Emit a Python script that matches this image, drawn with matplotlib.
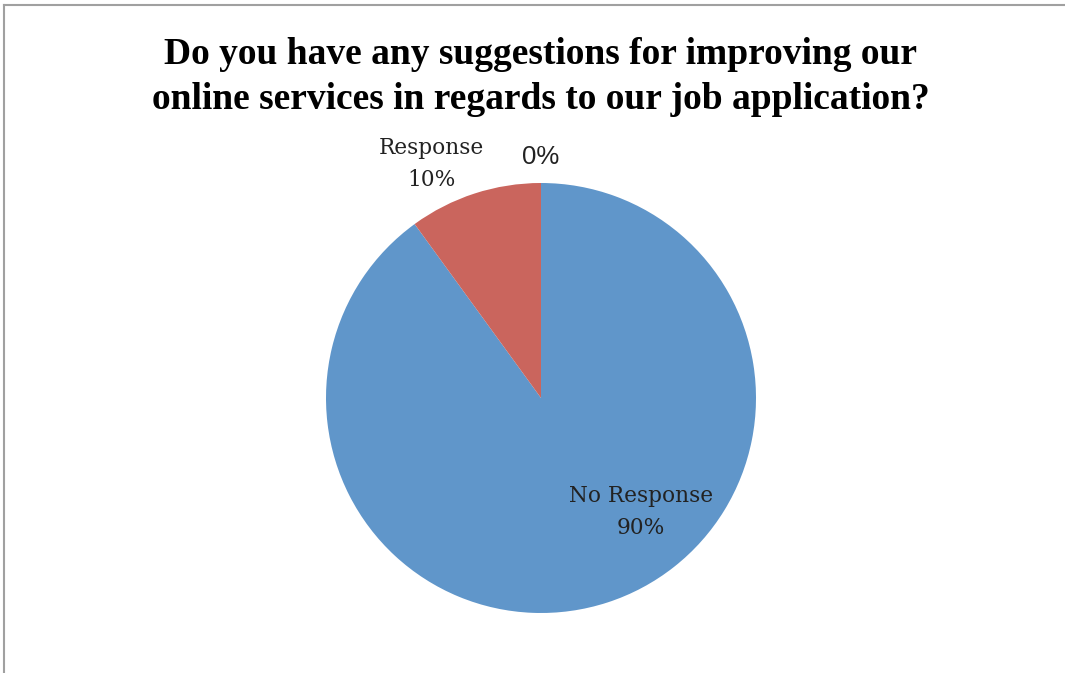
import numpy as np
import matplotlib.pyplot as plt
from matplotlib.lines import Line2D

# survey answers
labels = ['No Response', 'Response', '']
values = [90, 10, 0]
colors = ['#6096CA', '#CA655D', '#9BBB59']

title = 'Do you have any suggestions for improving our\nonline services in regards to our job application?'

W, H = 1065, 673
fig = plt.figure(figsize=(W / 100, H / 100), dpi=100)
ax = fig.add_axes([0, 0, 1, 1])

cx, cy, r = 541, H - 398, 215
wedges, _ = ax.pie(values, colors=colors, startangle=90, counterclock=False,
                   center=(cx, cy), radius=r, frame=True,
                   wedgeprops=dict(linewidth=0))
ax.set_xlim(0, W)
ax.set_ylim(0, H)
ax.set_aspect('equal')
ax.axis('off')

# data labels (best fit placement)
pcts = ['%d%%' % v for v in values]
ax.text(641, H - 512, labels[0] + '\n' + pcts[0], ha='center', va='center',
        fontsize=15.6, family='DejaVu Serif', color='#222222', linespacing=1.6)
ax.text(431, H - 164, labels[1] + '\n' + pcts[1], ha='center', va='center',
        fontsize=15.6, family='DejaVu Serif', color='#222222', linespacing=1.6)
ax.text(541, H - 157, pcts[2], ha='center', va='center',
        fontsize=18.5, family='Liberation Sans', color='#222222')

fig.text(541 / W, 1 - 77 / H, title, ha='center', va='center',
         fontsize=27, fontweight='bold', family='Liberation Serif',
         linespacing=1.36)

# chart border, only top and left edges are visible
fig.add_artist(Line2D([3.5 / W, 1], [1 - 4.5 / H, 1 - 4.5 / H], color='#A0A0A0', lw=1.5))
fig.add_artist(Line2D([3.5 / W, 3.5 / W], [0, 1 - 4.5 / H], color='#A0A0A0', lw=1.5))

fig.savefig('out.png', dpi=100)
